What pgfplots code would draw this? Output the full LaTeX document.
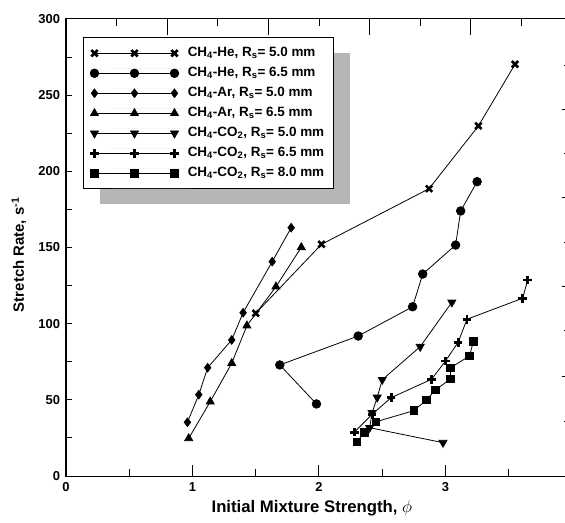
\documentclass[border=0pt]{standalone}
\usepackage{fontspec}
\setmainfont{Liberation Sans}
\usepackage{pgfplots}
\pgfplotsset{compat=1.18}
\usetikzlibrary{shadows}

\pgfplotstableread{
x y
1.50 106.8
2.02 152.1
2.87 188.6
3.26 229.8
3.55 270.3
}\heA
\pgfplotstableread{
x y
1.98 47.3
1.69 72.9
2.31 91.9
2.74 111.1
2.82 132.6
3.08 151.6
3.12 174.0
3.25 193.2
}\heB
\pgfplotstableread{
x y
0.96 35.3
1.05 53.4
1.12 71.1
1.31 89.3
1.40 107.2
1.63 140.7
1.78 163.0
}\arA
\pgfplotstableread{
x y
0.97 24.7
1.14 48.8
1.31 74.0
1.43 98.7
1.66 124.3
1.86 150.1
}\arB
\pgfplotstableread{
x y
2.98 21.9
2.40 31.7
2.42 41.4
2.46 51.6
2.50 63.2
2.80 84.9
3.05 114.0
}\coA
\pgfplotstableread{
x y
2.28 28.8
2.42 40.5
2.57 51.4
2.89 63.5
3.00 75.5
3.10 87.8
3.17 102.9
3.61 116.7
3.65 128.7
}\coB
\pgfplotstableread{
x y
2.30 22.5
2.36 28.7
2.45 35.6
2.75 42.9
2.85 49.9
2.92 56.5
3.04 63.7
3.04 71.1
3.19 78.8
3.22 88.2
}\coC

\pgfplotsset{
  base/.style={at={(0,0)}, anchor=south west, scale only axis,
    width=506bp, height=457bp, xmin=0, xmax=4, ymin=0, ymax=300,
    tick align=inside, axis line style={line width=1bp},
    every tick/.style={black, line width=1bp}},
}

\begin{document}
\begin{tikzpicture}
% left ticks
\begin{axis}[base, axis y line*=left, axis x line=none,
  ytick={0,25,...,300}, yticklabels={}, major tick length=6bp]
\end{axis}
% top ticks
\begin{axis}[base, axis x line*=top, axis y line=none,
  xtick={0.8,1.6,2.4,3.2}, minor xtick={0.4,1.2,2.0,2.8,3.6},
  xticklabels={}, major tick length=15.7bp, minor tick length=7.3bp]
\end{axis}
% right ticks
\begin{axis}[base, axis y line*=right, axis x line=none,
  ytick={65.6,124.1,182.5,240.9}, minor ytick={36.1,95.2,153,211.4,269.8},
  yticklabels={}, major tick length=10bp, minor tick length=8bp]
\end{axis}
% main
\begin{axis}[base,
  xtick={0,1,2,3}, minor xtick={0.5,1.5,2.5,3.5}, xtick pos=left,
  ytick={0,50,...,300}, ytick pos=left, ytick style={draw=none},
  major tick length=11bp, minor tick length=7bp,
  /pgf/number format/assume math mode=true,
  tick label style={font=\fontsize{13}{15}\selectfont\bfseries},
  xticklabel style={yshift=-3bp},
  yticklabel style={xshift=-2.5bp},
  xlabel={Initial Mixture Strength, $\phi$},
  ylabel={Stretch Rate, s\textsuperscript{-1}},
  xlabel style={font=\fontsize{16.8}{19}\selectfont\bfseries,
    at={(axis description cs:0.486,-0.0803)}, anchor=base},
  ylabel style={font=\fontsize{15}{17}\selectfont\bfseries,
    at={(axis description cs:-0.093,0.484)}, anchor=center},
  legend cell align=left,
  legend image code/.code={\draw[mark repeat=1,mark phase=1,#1] plot coordinates {(0bp,0bp) (40bp,0bp) (80bp,0bp)};},
  legend style={at={(axis description cs:0.033,0.96)}, anchor=north west,
    draw=black, line width=1bp, fill=white,
    font=\fontsize{13.5}{16}\selectfont\bfseries,
    inner xsep=7bp, inner ysep=6.5bp,
    nodes={inner sep=2bp, text height=10bp, text depth=4bp},
    row sep=2bp, column sep=7bp,
    drop shadow={shadow xshift=16.5bp, shadow yshift=-15bp, fill=black!29, opacity=1, draw=none}},
  every axis plot/.append style={black, line width=0.8bp},
]
\addplot[mark=x, mark size=4.5, every mark/.append style={line width=2.6bp}] table {\heA};
\addlegendentry{CH\textsubscript{4}-He, R\textsubscript{s}= 5.0 mm}
\addplot[mark=*, mark size=4.3] table {\heB};
\addlegendentry{CH\textsubscript{4}-He, R\textsubscript{s}= 6.5 mm}
\addplot[mark=diamond*, mark size=4.3] table {\arA};
\addlegendentry{CH\textsubscript{4}-Ar, R\textsubscript{s}= 5.0 mm}
\addplot[mark=triangle*, mark size=4.6] table {\arB};
\addlegendentry{CH\textsubscript{4}-Ar, R\textsubscript{s}= 6.5 mm}
\addplot[mark=triangle*, mark size=4.6, mark options={rotate=180}] table {\coA};
\addlegendentry{CH\textsubscript{4}-CO\textsubscript{2}, R\textsubscript{s}= 5.0 mm}
\addplot[mark=+, mark size=4.3, every mark/.append style={line width=2.8bp}] table {\coB};
\addlegendentry{CH\textsubscript{4}-CO\textsubscript{2}, R\textsubscript{s}= 6.5 mm}
\addplot[mark=square*, mark size=3.8] table {\coC};
\addlegendentry{CH\textsubscript{4}-CO\textsubscript{2}, R\textsubscript{s}= 8.0 mm}
\end{axis}
\pgfresetboundingbox
\useasboundingbox (-66bp,-47bp) rectangle (499bp,476bp);
\end{tikzpicture}
\end{document}
